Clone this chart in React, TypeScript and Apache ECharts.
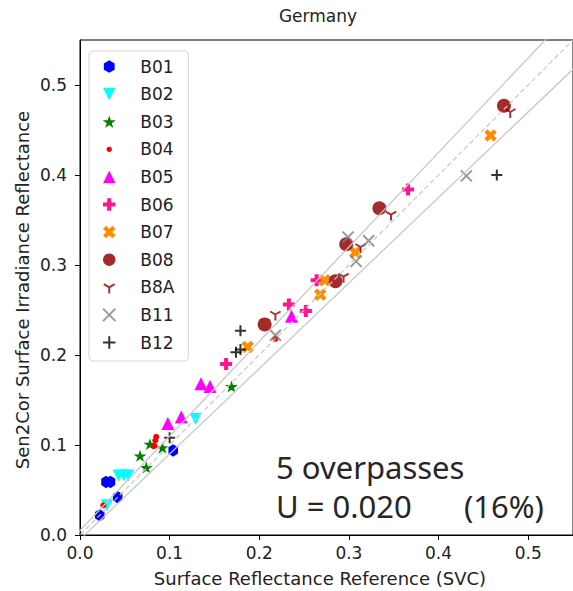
import React, { useEffect, useRef } from "react";
import * as echarts from "echarts";

const BANDS = ["B01", "B02", "B03", "B04", "B05", "B06", "B07", "B08", "B8A", "B11", "B12"];
const X_TICKS = [0, 0.1, 0.2, 0.3, 0.4, 0.5];
const Y_TICKS = [0, 0.1, 0.2, 0.3, 0.4, 0.5];

const B01 = [[0.022, 0.022], [0.042, 0.042], [0.029, 0.059], [0.034, 0.059], [0.104, 0.094]];
const B02 = [[0.03, 0.033], [0.043, 0.066], [0.049, 0.066], [0.054, 0.066], [0.129, 0.129]];
const B03 = [[0.067, 0.088], [0.074, 0.075], [0.078, 0.101], [0.092, 0.097], [0.169, 0.165]];
const B04 = [[0.026, 0.033], [0.083, 0.099], [0.084, 0.105], [0.085, 0.109], [0.218, 0.218]];
const B05 = [[0.098, 0.124], [0.113, 0.131], [0.135, 0.168], [0.145, 0.165], [0.236, 0.243]];
const B06 = [[0.163, 0.19], [0.233, 0.256], [0.252, 0.249], [0.264, 0.283], [0.366, 0.384]];
const B07 = [[0.187, 0.209], [0.268, 0.267], [0.273, 0.283], [0.307, 0.314], [0.458, 0.444]];
const B08 = [[0.206, 0.234], [0.285, 0.282], [0.297, 0.323], [0.334, 0.363], [0.473, 0.477]];
const B8A = [[0.218, 0.245], [0.294, 0.287], [0.313, 0.32], [0.347, 0.356], [0.48, 0.47]];
const B11 = [[0.218, 0.222], [0.299, 0.331], [0.322, 0.327], [0.308, 0.304], [0.431, 0.399]];
const B12 = [[0.1, 0.108], [0.174, 0.203], [0.179, 0.206], [0.179, 0.227], [0.465, 0.4]];

const BAND_DATA = [B01, B02, B03, B04, B05, B06, B07, B08, B8A, B11, B12];
const BAND_COLORS = ["#0000ff", "#00ffff", "#008000", "#ff0000", "#ff00ff", "#ff1493", "#ff8c00", "#a52a2a", "#8b0000", "#808080", "#000000"];

// specification lines: y = x +/- (SPEC_ABS + SPEC_REL * x)
const SPEC_ABS = 0.005;
const SPEC_REL = 0.05;
const LINE_X = [-0.05, 0.65];

const HEX = "path://M0,-1L0.866,-0.5L0.866,0.5L0,1L-0.866,0.5L-0.866,-0.5Z";
const TRI_V = "path://M-1,-1L1,-1L0,1Z";
const TRI_UP = "path://M0,-1L1,1L-1,1Z";
const STAR = "path://M0,-1L0.2245,-0.309L0.951,-0.309L0.363,0.118L0.588,0.809L0,0.382L-0.588,0.809L-0.363,0.118L-0.951,-0.309L-0.2245,-0.309Z";
const PLUS_FILLED = "path://M-1,-3L1,-3L1,-1L3,-1L3,1L1,1L1,3L-1,3L-1,1L-3,1L-3,-1L-1,-1Z";
const X_FILLED = "path://M1.414,-2.828L2.828,-1.414L1.414,0L2.828,1.414L1.414,2.828L0,1.414L-1.414,2.828L-2.828,1.414L-1.414,0L-2.828,-1.414L-1.414,-2.828L0,-1.414Z";
const TRI_DOWN = "path://M0,-1M0,0L0,1M0,0L-0.866,-0.5M0,0L0.866,-0.5";
const X_THIN = "path://M-1,-1L1,1M-1,1L1,-1";
const PLUS_THIN = "path://M0,-1L0,1M-1,0L1,0";
const SMALL_DOT = "path://M-1,-1M1,1M0.42,0A0.42,0.42,0,1,1,-0.42,0A0.42,0.42,0,1,1,0.42,0Z";

const SYMBOLS: any[] = [
  { symbol: HEX, size: [11, 12.5], stroke: false },
  { symbol: TRI_V, size: 12, stroke: false },
  { symbol: STAR, size: [13, 12.5], stroke: false },
  { symbol: "circle", size: 6, stroke: false },
  { symbol: TRI_UP, size: 13, stroke: false },
  { symbol: PLUS_FILLED, size: 12, stroke: false },
  { symbol: X_FILLED, size: 12.5, stroke: false },
  { symbol: "circle", size: 14, stroke: false },
  { symbol: TRI_DOWN, size: 12, stroke: true },
  { symbol: X_THIN, size: 11, stroke: true },
  { symbol: PLUS_THIN, size: 11, stroke: true },
];

export default function App() {
  const ref = useRef<HTMLDivElement>(null);

  useEffect(() => {
    document.body.style.margin = "0";
    if (!ref.current) return;
    const chart = echarts.init(ref.current, undefined, { renderer: "svg" });

    const scatterSeries = BANDS.map((name, i) => {
      const s = SYMBOLS[i];
      const color = BAND_COLORS[i];
      return {
        name,
        type: "scatter",
        data: BAND_DATA[i],
        symbol: s.symbol,
        symbolSize: s.size,
        symbolKeepAspect: true,
        color,
        itemStyle: s.stroke
          ? { color: "rgba(0,0,0,0)", borderColor: color, borderWidth: 2 }
          : { color, opacity: 1 },
        z: 2,
        silent: true,
      };
    });

    const lineSeries = [
      {
        type: "line",
        data: LINE_X.map((x) => [x, x]),
        lineStyle: { color: "#c8c8c8", width: 1.2, type: [5, 3] },
      },
      {
        type: "line",
        data: LINE_X.map((x) => [x, x + SPEC_ABS + SPEC_REL * x]),
        lineStyle: { color: "#c8c8c8", width: 1.3, type: "solid" },
      },
      {
        type: "line",
        data: LINE_X.map((x) => [x, x - SPEC_ABS - SPEC_REL * x]),
        lineStyle: { color: "#c8c8c8", width: 1.3, type: "solid" },
      },
    ].map((l) => ({ ...l, showSymbol: false, symbol: "none", silent: true, z: 3, clip: true }));

    const legendData = BANDS.map((name) =>
      name === "B04" ? { name, icon: SMALL_DOT } : { name }
    );

    chart.setOption({
      animation: false,
      backgroundColor: "#ffffff",
      grid: {
        left: 80,
        top: 40,
        width: 496,
        height: 495,
        show: true,
        borderColor: "#000",
        borderWidth: 1,
        backgroundColor: "transparent",
        containLabel: false,
      },
      xAxis: {
        type: "value",
        min: 0,
        max: 0.55,
        interval: 0.1,
        axisLine: { show: true, onZero: false, lineStyle: { color: "#000", width: 1 } },
        axisTick: { show: true, length: 5, customValues: X_TICKS, lineStyle: { color: "#000" } },
        axisLabel: {
          customValues: X_TICKS,
          formatter: (v: number) => v.toFixed(1),
          fontSize: 17,
          fontFamily: "DejaVu Sans",
          color: "#222",
          margin: 9,
        },
        splitLine: { show: false },
      },
      yAxis: {
        type: "value",
        min: 0,
        max: 0.55,
        interval: 0.1,
        axisLine: { show: true, onZero: false, lineStyle: { color: "#000", width: 1 } },
        axisTick: { show: true, length: 5, customValues: Y_TICKS, lineStyle: { color: "#000" } },
        axisLabel: {
          customValues: Y_TICKS,
          formatter: (v: number) => v.toFixed(1),
          fontSize: 17,
          fontFamily: "DejaVu Sans",
          color: "#222",
          margin: 13,
        },
        splitLine: { show: false },
      },
      legend: {
        orient: "vertical",
        left: 89,
        top: 51,
        data: legendData,
        itemWidth: 30,
        itemHeight: 12.5,
        itemGap: 10.6,
        padding: [7, 14, 10, 13],
        backgroundColor: "#fff",
        borderColor: "#d5d5d5",
        borderWidth: 1,
        borderRadius: 4,
        selectedMode: false,
        textStyle: {
          fontSize: 17,
          lineHeight: 17,
          fontFamily: "DejaVu Sans",
          color: "#222",
          padding: [0, 0, 0, 11],
        },
        z: 10,
      },
      graphic: [
        {
          type: "text",
          x: 318,
          y: 16,
          style: { text: "Germany", fontSize: 17, fontFamily: "DejaVu Sans", fill: "#222", align: "center", verticalAlign: "middle" },
        },
        {
          type: "text",
          x: 320,
          y: 578,
          style: { text: "Surface Reflectance Reference (SVC)", fontSize: 18, fontFamily: "DejaVu Sans", fill: "#222", align: "center", verticalAlign: "middle" },
        },
        {
          type: "text",
          x: 22,
          y: 290,
          rotation: Math.PI / 2,
          style: { text: "Sen2Cor Surface Irradiance Reflectance", fontSize: 18, fontFamily: "DejaVu Sans", fill: "#222", align: "center", verticalAlign: "middle" },
        },
        {
          type: "text",
          x: 276,
          y: 467,
          z: 20,
          style: { text: "5 overpasses", fontSize: 31, fontFamily: "Noto Sans", fill: "#262626", align: "left", verticalAlign: "middle" },
        },
        {
          type: "text",
          x: 276,
          y: 506,
          z: 20,
          style: { text: "U = 0.020", fontSize: 31, fontFamily: "Noto Sans", fill: "#262626", align: "left", verticalAlign: "middle" },
        },
        {
          type: "text",
          x: 464,
          y: 506,
          z: 20,
          style: { text: "(16%)", fontSize: 31, fontFamily: "Noto Sans", fill: "#262626", align: "left", verticalAlign: "middle" },
        },
      ],
      series: [...scatterSeries, ...lineSeries],
    });

    return () => chart.dispose();
  }, []);

  return <div ref={ref} style={{ width: 573, height: 591 }} />;
}
